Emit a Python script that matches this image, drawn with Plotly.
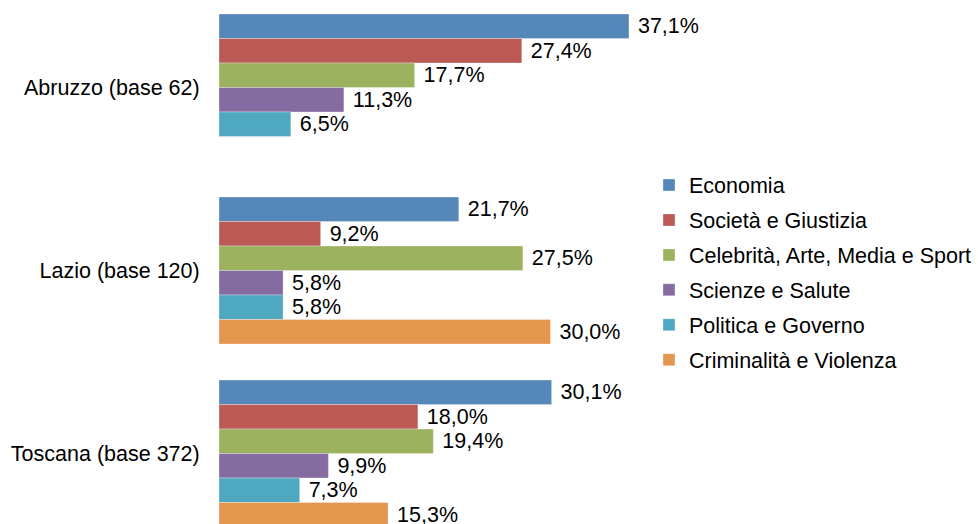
import plotly.graph_objects as go

# Regions (categories) and topic shares in percent
regions = ["Abruzzo (base 62)", "Lazio (base 120)", "Toscana (base 372)"]
topics = [
    "Economia",
    "Società e Giustizia",
    "Celebrità, Arte, Media e Sport",
    "Scienze e Salute",
    "Politica e Governo",
    "Criminalità e Violenza",
]
economia = [37.1, 21.7, 30.1]
societa_giustizia = [27.4, 9.2, 18.0]
celebrita_arte_media_sport = [17.7, 27.5, 19.4]
scienze_salute = [11.3, 5.8, 9.9]
politica_governo = [6.5, 5.8, 7.3]
criminalita_violenza = [None, 30.0, 15.3]

series = [
    economia,
    societa_giustizia,
    celebrita_arte_media_sport,
    scienze_salute,
    politica_governo,
    criminalita_violenza,
]
colors = ["#5587B9", "#BB5A55", "#9DB25F", "#856CA0", "#4EA8C0", "#E3964E"]

FONT = "Liberation Sans, Arial, sans-serif"
FS = 21.5


def fmt(v):
    if v is None:
        return ""
    return " " + f"{v:.1f}%".replace(".", ",")


fig = go.Figure()
for name, vals, col in zip(topics, series, colors):
    fig.add_trace(
        go.Bar(
            name=name,
            y=regions,
            x=vals,
            orientation="h",
            marker=dict(color=col, line=dict(color="rgba(255,255,255,0.5)", width=0.6)),
            text=[fmt(v) for v in vals],
            textposition="outside",
            textfont=dict(family=FONT, size=FS, color="#000000"),
            constraintext="none",
            cliponaxis=False,
            legendgroup=name,
            hoverinfo="skip",
        )
    )

left = 219
plot_w = 978 - left
px_per_unit = 11.05

fig.update_layout(
    width=978,
    height=524,
    margin=dict(l=left, r=0, t=0, b=0, pad=0),
    paper_bgcolor="white",
    plot_bgcolor="white",
    barmode="group",
    bargap=0.197,
    bargroupgap=0,
    font=dict(family=FONT, size=FS, color="#000000"),
    xaxis=dict(
        range=[0, plot_w / px_per_unit],
        showgrid=False,
        zeroline=False,
        showline=False,
        showticklabels=False,
        ticks="",
        fixedrange=True,
    ),
    yaxis=dict(
        type="category",
        categoryorder="array",
        categoryarray=regions,
        range=[2.385, -0.478],
        showgrid=False,
        zeroline=False,
        showline=False,
        ticks="outside",
        ticklen=14,
        tickcolor="rgba(0,0,0,0)",
        tickfont=dict(family=FONT, size=FS, color="#000000"),
        fixedrange=True,
    ),
    legend=dict(
        x=(649 - left) / plot_w,
        xanchor="left",
        y=1 - 272.5 / 524,
        yanchor="middle",
        traceorder="grouped",
        tracegroupgap=4,
        font=dict(family=FONT, size=FS, color="#000000"),
        bgcolor="rgba(0,0,0,0)",
        itemwidth=30,
    ),
    showlegend=True,
)

fig.write_html("out.html")
